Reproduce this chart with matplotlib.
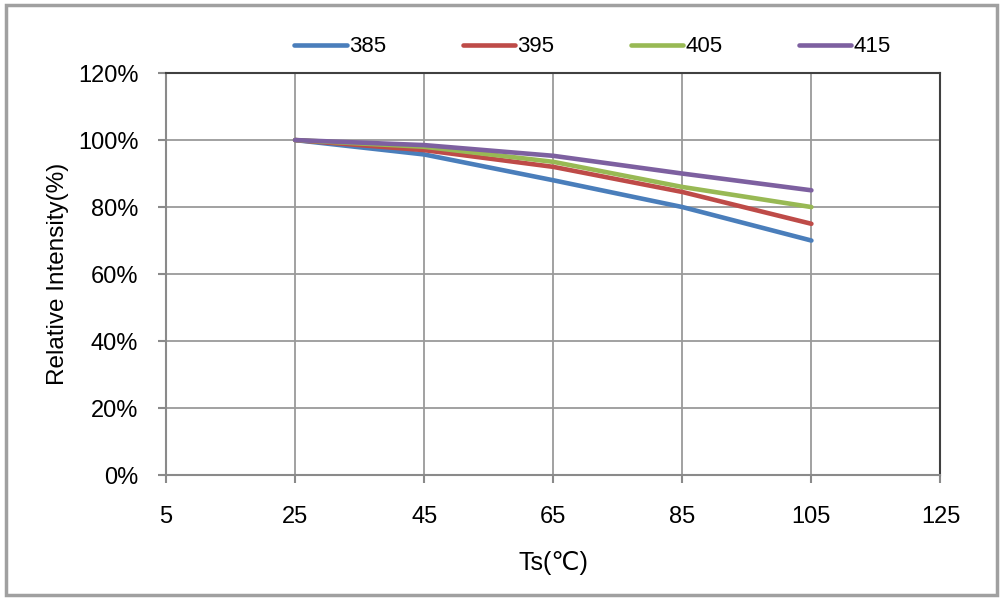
import numpy as np
import matplotlib
matplotlib.use("Agg")
import matplotlib.pyplot as plt
from matplotlib.patches import Rectangle
from matplotlib.ticker import FuncFormatter

plt.rcParams["font.family"] = ["Liberation Sans", "DejaVu Sans"]

# data
temps = [25, 45, 65, 85, 105]
series_names = ["385", "395", "405", "415"]
int_385 = [100, 95.7, 88, 80, 70]
int_395 = [100, 97, 92, 84.5, 75]
int_405 = [100, 98, 93.5, 86, 80]
int_415 = [100, 98.5, 95.3, 90, 85]
x_ticks = [5, 25, 45, 65, 85, 105, 125]
y_ticks = [0, 20, 40, 60, 80, 100, 120]

colors = ["#4a7ebb", "#be4b48", "#98b954", "#7d60a0"]

fig = plt.figure(figsize=(10.02, 5.99), dpi=100)
ax = fig.add_axes([0.1657, 0.207, 0.7729, 0.671])

for name, vals, c in zip(series_names, [int_385, int_395, int_405, int_415], colors):
    ax.plot(temps, vals, color=c, lw=3.3, label=name, solid_capstyle="round", zorder=3)

ax.set_xlim(5, 125)
ax.set_ylim(0, 120)
ax.set_xticks(x_ticks)
ax.set_yticks(y_ticks)
ax.yaxis.set_major_formatter(FuncFormatter(lambda v, p: f"{v:.0f}%"))
ax.grid(True, color="#9a9a9a", lw=1.3, zorder=1)
ax.set_axisbelow(True)

for side in ["left", "bottom"]:
    ax.spines[side].set_color("#8a8a8a")
    ax.spines[side].set_linewidth(1.5)
for side in ["top", "right"]:
    ax.spines[side].set_color("#404040")
    ax.spines[side].set_linewidth(1.5)

ax.tick_params(axis="both", labelsize=17, colors="#8a8a8a", labelcolor="black", width=1.5)
ax.tick_params(axis="y", length=6, pad=14)
ax.tick_params(axis="x", length=6, pad=16)

ax.set_xlabel("Ts(℃)", fontsize=18, labelpad=17)
ax.set_ylabel("Relative Intensity(%)", fontsize=17.5, labelpad=6)

fig.legend(loc="center", bbox_to_anchor=(0.5913, 1 - 47 / 599), ncol=4, frameon=False,
           fontsize=16, handlelength=2.35, handletextpad=0.1, columnspacing=3.45)

# outer border of the picture
fig.patches.append(Rectangle((0.006, 0.006), 0.989, 0.985, transform=fig.transFigure,
                             fill=False, edgecolor="#a0a0a0", lw=2.5))

fig.savefig("out.png", dpi=100)
plt.close(fig)
